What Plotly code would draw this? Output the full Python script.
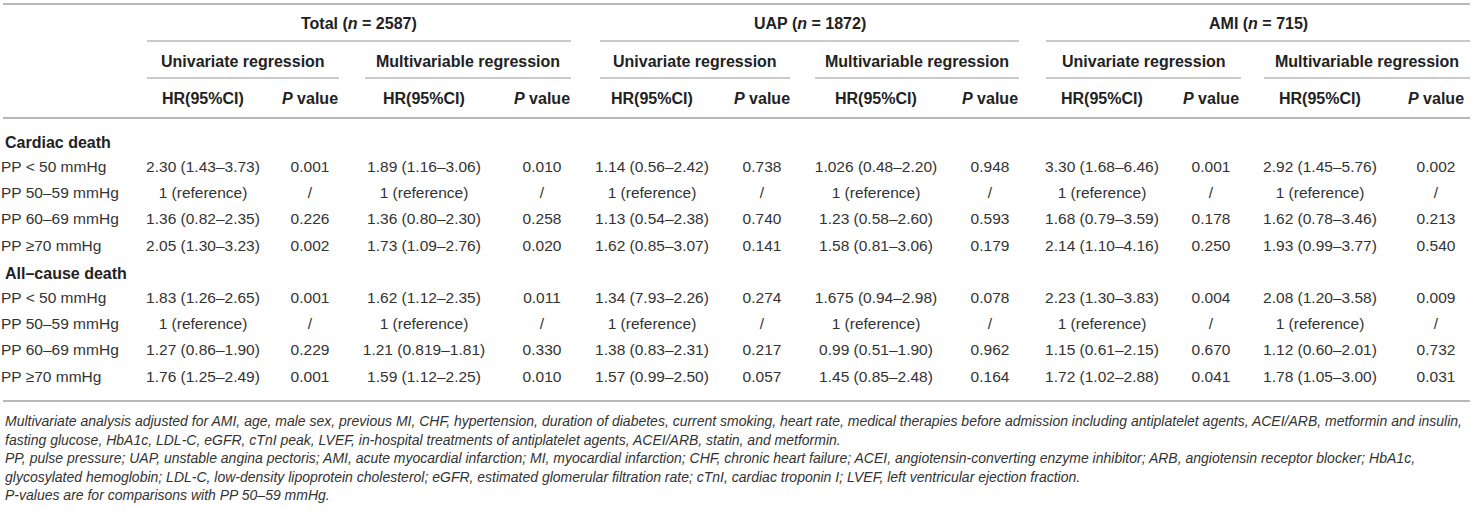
import plotly.graph_objects as go

# Table headers
groups = ["Total", "UAP", "AMI"]
group_n = [2587, 1872, 715]
models = ["Univariate regression", "Multivariable regression"]
outcomes = ["Cardiac death", "All–cause death"]
pp_levels = ["PP < 50 mmHg", "PP 50–59 mmHg", "PP 60–69 mmHg", "PP ≥70 mmHg"]

# Cell values: first 4 = cardiac death, last 4 = all-cause death
total_uni_hr = ["2.30 (1.43–3.73)", "1 (reference)", "1.36 (0.82–2.35)", "2.05 (1.30–3.23)",
                "1.83 (1.26–2.65)", "1 (reference)", "1.27 (0.86–1.90)", "1.76 (1.25–2.49)"]
total_uni_p = ["0.001", "/", "0.226", "0.002", "0.001", "/", "0.229", "0.001"]
total_multi_hr = ["1.89 (1.16–3.06)", "1 (reference)", "1.36 (0.80–2.30)", "1.73 (1.09–2.76)",
                  "1.62 (1.12–2.35)", "1 (reference)", "1.21 (0.819–1.81)", "1.59 (1.12–2.25)"]
total_multi_p = ["0.010", "/", "0.258", "0.020", "0.011", "/", "0.330", "0.010"]
uap_uni_hr = ["1.14 (0.56–2.42)", "1 (reference)", "1.13 (0.54–2.38)", "1.62 (0.85–3.07)",
              "1.34 (7.93–2.26)", "1 (reference)", "1.38 (0.83–2.31)", "1.57 (0.99–2.50)"]
uap_uni_p = ["0.738", "/", "0.740", "0.141", "0.274", "/", "0.217", "0.057"]
uap_multi_hr = ["1.026 (0.48–2.20)", "1 (reference)", "1.23 (0.58–2.60)", "1.58 (0.81–3.06)",
                "1.675 (0.94–2.98)", "1 (reference)", "0.99 (0.51–1.90)", "1.45 (0.85–2.48)"]
uap_multi_p = ["0.948", "/", "0.593", "0.179", "0.078", "/", "0.962", "0.164"]
ami_uni_hr = ["3.30 (1.68–6.46)", "1 (reference)", "1.68 (0.79–3.59)", "2.14 (1.10–4.16)",
              "2.23 (1.30–3.83)", "1 (reference)", "1.15 (0.61–2.15)", "1.72 (1.02–2.88)"]
ami_uni_p = ["0.001", "/", "0.178", "0.250", "0.004", "/", "0.670", "0.041"]
ami_multi_hr = ["2.92 (1.45–5.76)", "1 (reference)", "1.62 (0.78–3.46)", "1.93 (0.99–3.77)",
                "2.08 (1.20–3.58)", "1 (reference)", "1.12 (0.60–2.01)", "1.78 (1.05–3.00)"]
ami_multi_p = ["0.002", "/", "0.213", "0.540", "0.009", "/", "0.732", "0.031"]

footnotes = [
    "Multivariate analysis adjusted for AMI, age, male sex, previous MI, CHF, hypertension, duration of diabetes, current smoking, heart rate, medical therapies before admission including antiplatelet agents, ACEI/ARB, metformin and insulin,",
    "fasting glucose, HbA1c, LDL-C, eGFR, cTnI peak, LVEF, in-hospital treatments of antiplatelet agents, ACEI/ARB, statin, and metformin.",
    "PP, pulse pressure; UAP, unstable angina pectoris; AMI, acute myocardial infarction; MI, myocardial infarction; CHF, chronic heart failure; ACEI, angiotensin-converting enzyme inhibitor; ARB, angiotensin receptor blocker; HbA1c,",
    "glycosylated hemoglobin; LDL-C, low-density lipoprotein cholesterol; eGFR, estimated glomerular filtration rate; cTnI, cardiac troponin I; LVEF, left ventricular ejection fraction.",
    "P-values are for comparisons with PP 50–59 mmHg.",
]

columns = [total_uni_hr, total_uni_p, total_multi_hr, total_multi_p,
           uap_uni_hr, uap_uni_p, uap_multi_hr, uap_multi_p,
           ami_uni_hr, ami_uni_p, ami_multi_hr, ami_multi_p]

# geometry (pixel coordinates, y grows downwards)
W, H = 1474, 510
FONT = "Liberation Sans, Arial, Helvetica, sans-serif"
TXT = "#333333"
LINE = "#b8b8b8"
col_x = [203, 310, 424, 542, 652, 762, 876, 990, 1102, 1211, 1320, 1436]
group_span = [(147, 571), (600, 1019), (1046, 1470)]
sub_span = [(147, 339), (365, 571), (600, 790), (815, 1019), (1046, 1241), (1264, 1470)]
section_y = [142, 273]
row_step = 26.2
row_y = [section_y[s] + row_step * (i + 1) for s in range(2) for i in range(4)]
foot_y = [421, 440, 458, 477, 495]

fig = go.Figure()

# row labels
fig.add_trace(go.Scatter(x=[1] * 8, y=row_y, text=pp_levels * 2, mode="text",
                         textposition="middle right",
                         textfont=dict(family=FONT, size=15.5, color=TXT),
                         hoverinfo="skip", showlegend=False))
# body cells
for cx, vals in zip(col_x, columns):
    fig.add_trace(go.Scatter(x=[cx] * len(vals), y=row_y, text=vals, mode="text",
                             textposition="middle center",
                             textfont=dict(family=FONT, size=15.5, color=TXT),
                             hoverinfo="skip", showlegend=False))

ann = []
# section titles
for name, yy in zip(outcomes, section_y):
    ann.append(dict(x=3, y=yy, text="<b>%s</b>" % name, xanchor="left"))
# group headers
for (a, b), g, n in zip(group_span, groups, group_n):
    ann.append(dict(x=(a + b) / 2, y=23, text="<b>%s (<i>n</i> = %d)</b>" % (g, n), xanchor="center"))
for k, (a, b) in enumerate(sub_span):
    ann.append(dict(x=(a + b) / 2, y=61, text="<b>%s</b>" % models[k % 2], xanchor="center"))
for k, cx in enumerate(col_x):
    lab = "<b>HR(95%CI)</b>" if k % 2 == 0 else "<b><i>P</i> value</b>"
    ann.append(dict(x=cx, y=98, text=lab, xanchor="center"))
for a in ann:
    a.update(xref="x", yref="y", yanchor="middle", showarrow=False,
             font=dict(family=FONT, size=16, color="#222222"))
for t, yy in zip(footnotes, foot_y):
    ann.append(dict(x=3, y=yy, text="<i>%s</i>" % t, xref="x", yref="y", xanchor="left",
                    yanchor="middle", showarrow=False,
                    font=dict(family=FONT, size=14, color=TXT)))

shapes = []
for yy in (4, 118, 401):
    shapes.append(dict(type="line", x0=3, x1=1470, y0=yy, y1=yy, line=dict(color=LINE, width=2)))
for a, b in group_span:
    shapes.append(dict(type="line", x0=a, x1=b, y0=41, y1=41, line=dict(color=LINE, width=1.5)))
for a, b in sub_span:
    shapes.append(dict(type="line", x0=a, x1=b, y0=78, y1=78, line=dict(color=LINE, width=1.5)))
for s in shapes:
    s.update(xref="x", yref="y")

fig.update_layout(width=W, height=H, margin=dict(l=0, r=0, t=0, b=0),
                  paper_bgcolor="white", plot_bgcolor="white",
                  xaxis=dict(range=[0, W], visible=False, fixedrange=True),
                  yaxis=dict(range=[H, 0], visible=False, fixedrange=True),
                  annotations=ann, shapes=shapes)

fig.write_html("out.html", config={"displayModeBar": False},
               post_script="document.body.style.margin='0';")
